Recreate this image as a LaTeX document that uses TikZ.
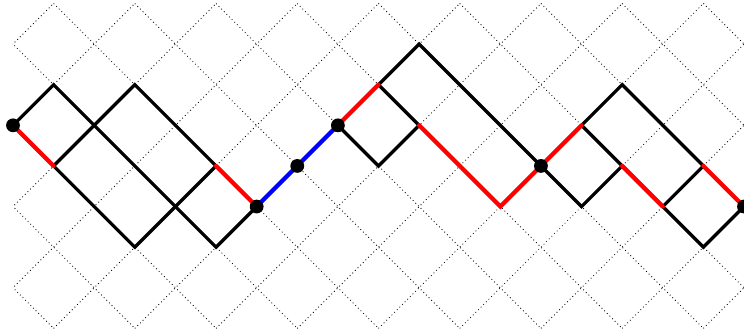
\documentclass[tikz,border=0pt]{standalone}
\usepackage{tikz}
\usetikzlibrary{positioning}

\begin{document}
\begin{tikzpicture}[
  gridline/.style={dotted, line width=0.6pt, black},
  pathline/.style={line width=2.3pt},
  redpath/.style={line width=3pt, red, line cap=round},
  bluepath/.style={line width=3pt, blue},
  vertex/.style={circle, fill=black, inner sep=0pt, minimum size=0.34cm}
]
\useasboundingbox (-0.32,-5.09) rectangle (18,3.086);
% dotted lattice
\begin{scope}
  \clip (0,-5) rectangle (18,3);
  \foreach \c in {-6,-4,...,24} {
    \draw[gridline] (\c-3,3) -- (\c+5,-5);
    \draw[gridline] (\c-5,-5) -- (\c+3,3);
  }
\end{scope}
% marked points
\coordinate (s0) at (0,0);
\coordinate (s1) at (6,-2);
\coordinate (s2) at (7,-1);
\coordinate (s3) at (8,0);
\coordinate (s4) at (13,-1);
\coordinate (s5) at (18,-2);
% black paths
\draw[pathline] (s0) -- (1,1) -- (5,-3) -- (s1);
\draw[pathline] (1,-1) -- (3,1) -- (5,-1);
\draw[pathline] (1,-1) -- (3,-3) -- (5,-1);
\draw[pathline] (9,1) -- (10,2) -- (s4);
\draw[pathline] (s3) -- (9,-1) -- (10,0) -- (9,1);
\draw[pathline] (14,0) -- (15,1) -- (17,-1);
\draw[pathline] (s4) -- (14,-2) -- (15,-1) -- (14,0);
\draw[pathline] (16,-2) -- (17,-1);
\draw[pathline] (16,-2) -- (17,-3) -- (s5);
% red steps
\draw[redpath] (s0) -- (1,-1);
\draw[redpath] (5,-1) -- (s1);
\draw[redpath] (s3) -- (9,1);
\draw[redpath] (10,0) -- (12,-2) -- (s4);
\draw[redpath] (s4) -- (14,0);
\draw[redpath] (15,-1) -- (16,-2);
\draw[redpath] (17,-1) -- (s5);
% blue steps
\draw[bluepath] (s1) -- (s2) -- (s3);
% dots
\foreach \p in {s0,s1,s2,s3,s4,s5}
  \node[vertex] (n\p) at (\p) {};
\end{tikzpicture}
\end{document}
